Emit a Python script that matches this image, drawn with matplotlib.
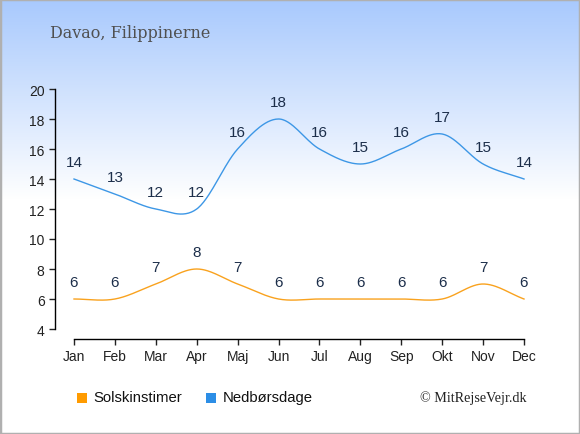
import numpy as np
import matplotlib
matplotlib.use("Agg")
import matplotlib.pyplot as plt
import matplotlib.patches as mpatches

# ─── Data ─────────────────────────────────────────────────────────────────────

months = ["Jan", "Feb", "Mar", "Apr", "Maj", "Jun",
          "Jul", "Aug", "Sep", "Okt", "Nov", "Dec"]
sun_hours = [6, 6, 7, 8, 7, 6, 6, 6, 6, 6, 7, 6]
rain_days = [14, 13, 12, 12, 16, 18, 16, 15, 16, 17, 15, 14]

title = "Davao, Filippinerne"
credit = "© MitRejseVejr.dk"

SUN_COLOR = "#f9a21e"
RAIN_COLOR = "#3d97e6"
LABEL_COLOR = "#1c2e4a"


def smooth(y, n=30):
    """Catmull-Rom style cubic Hermite through the points."""
    y = np.asarray(y, float)
    x = np.arange(len(y))
    m = np.zeros_like(y)
    m[1:-1] = (y[2:] - y[:-2]) / 2
    m[0] = y[1] - y[0]
    m[-1] = y[-1] - y[-2]
    xs, ys = [], []
    for i in range(len(y) - 1):
        t = np.linspace(0, 1, n, endpoint=(i == len(y) - 2))
        h00 = 2 * t**3 - 3 * t**2 + 1
        h10 = t**3 - 2 * t**2 + t
        h01 = -2 * t**3 + 3 * t**2
        h11 = t**3 - t**2
        xs.append(x[i] + t)
        ys.append(h00 * y[i] + h10 * m[i] + h01 * y[i + 1] + h11 * m[i + 1])
    return np.concatenate(xs), np.concatenate(ys)


# ─── Figure ───────────────────────────────────────────────────────────────────

fig = plt.figure(figsize=(5.8, 4.35), dpi=100)

# background gradient: blue at top fading to white
bg = fig.add_axes([0, 0, 1, 1], zorder=-1)
grad = np.ones((435, 1, 3))
top = np.array([0xa8, 0xc9, 0xfd]) / 255
for r in range(435):
    f = min(r / 200.0, 1.0)
    grad[r, 0] = top * (1 - f) + np.ones(3) * f
bg.imshow(grad, aspect="auto", extent=[0, 1, 0, 1])
bg.set_axis_off()
bg.add_patch(mpatches.Rectangle((0, 0), 1, 1, transform=bg.transAxes,
                                fill=False, edgecolor="#b0b0b0", linewidth=2.5))

# axes: left spine at x=55, Jan at 74, Dec at 524; y 20 at 90px, 4 at 330px
px = 450 / 11
x0 = -19 / px
x1 = 11 + 1 / px
ax = fig.add_axes([55 / 580, (435 - 340) / 435, (525 - 55) / 580, 250 / 435])
ax.set_xlim(x0, x1)
ax.set_ylim(4 - 10 / 15, 20)
ax.patch.set_alpha(0)

for s in ["top", "right"]:
    ax.spines[s].set_visible(False)
ax.spines["left"].set_bounds(4, 20)
ax.spines["bottom"].set_bounds(0, 11)
ax.spines["left"].set_linewidth(1)
ax.spines["bottom"].set_linewidth(1)

ax.set_yticks(range(4, 21, 2))
ax.set_xticks(range(12))
ax.set_xticklabels(months)
ax.tick_params(length=4, width=1, labelsize=10, colors="#222222")
for lab in ax.get_xticklabels() + ax.get_yticklabels():
    lab.set_fontfamily("Liberation Sans")

xs, ys = smooth(sun_hours)
ax.plot(xs, ys, color=SUN_COLOR, linewidth=1)
xs, ys = smooth(rain_days)
ax.plot(xs, ys, color=RAIN_COLOR, linewidth=1)

for i, (s, r) in enumerate(zip(sun_hours, rain_days)):
    ax.annotate(str(s), (i, s), xytext=(0, 7.5), textcoords="offset points",
                ha="center", va="bottom", color=LABEL_COLOR, fontsize=11,
                family="Liberation Sans")
    ax.annotate(str(r), (i, r), xytext=(0, 7.5), textcoords="offset points",
                ha="center", va="bottom", color=LABEL_COLOR, fontsize=11,
                family="Liberation Sans")

# title and credit
fig.text(50 / 580, 1 - 33 / 435, title, ha="left", va="center",
         fontsize=11.5, color="#505050", family="DejaVu Serif")
fig.text(527 / 580, 1 - 398 / 435, credit, ha="right", va="center",
         fontsize=10.2, color="#222222", family="Liberation Serif")

# legend
for xsq, col, lab in [(77, "#ff9b00", "Solskinstimer"), (206, "#2c8ee6", "Nedbørsdage")]:
    fig.patches.append(mpatches.Rectangle((xsq / 580, 1 - 404 / 435), 10 / 580, 10 / 435,
                                          transform=fig.transFigure,
                                          facecolor=col, edgecolor="none"))
    fig.text((xsq + 16.5) / 580, 1 - 398 / 435, lab, ha="left", va="center",
             fontsize=10.7, color="#111111", family="Liberation Sans")

fig.savefig("out.png", dpi=100)
